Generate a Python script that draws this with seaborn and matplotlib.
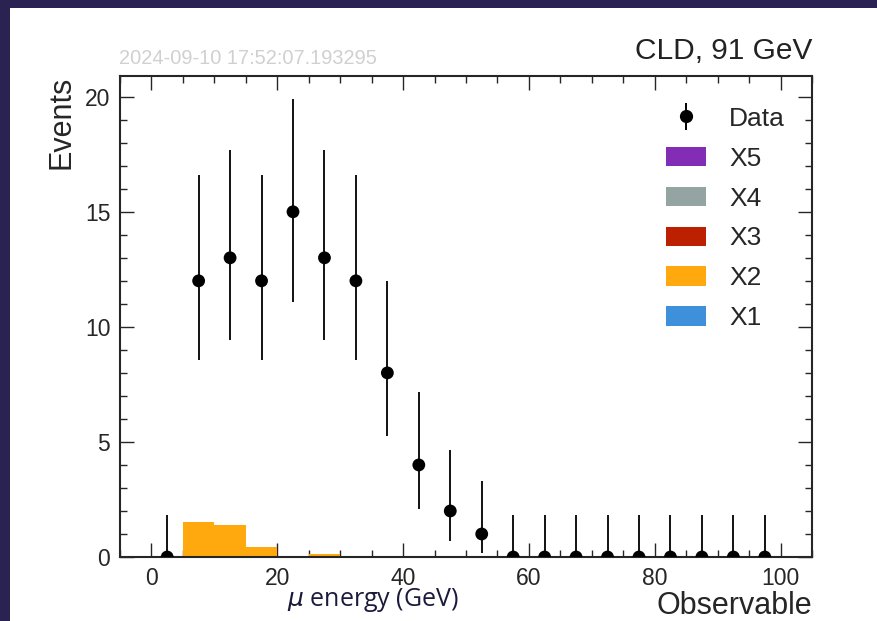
import numpy as np
import pandas as pd
import matplotlib
matplotlib.use("Agg")
import matplotlib.pyplot as plt
from matplotlib.patches import Patch, Rectangle
import seaborn as sns

# ---- data ----
bin_edges = [0, 5, 10, 15, 20, 25, 30, 35, 40, 45, 50, 55, 60, 65, 70, 75, 80, 85, 90, 95, 100]
bin_centers = [2.5, 7.5, 12.5, 17.5, 22.5, 27.5, 32.5, 37.5, 42.5, 47.5,
               52.5, 57.5, 62.5, 67.5, 72.5, 77.5, 82.5, 87.5, 92.5, 97.5]
data_counts = [0, 12, 13, 12, 15, 13, 12, 8, 4, 2, 1, 0, 0, 0, 0, 0, 0, 0, 0, 0]
data_err_low = [0, 8.56, 9.41, 8.56, 11.1, 9.41, 8.56, 5.27, 2.08, 0.71, 0.17, 0, 0, 0, 0, 0, 0, 0, 0, 0]
data_err_high = [1.84, 16.6, 17.7, 16.6, 19.9, 17.7, 16.6, 11.98, 7.16, 4.64, 3.30,
                 1.84, 1.84, 1.84, 1.84, 1.84, 1.84, 1.84, 1.84, 1.84]
x2_counts = [0, 1.52, 1.40, 0.42, 0, 0.15, 0, 0, 0, 0, 0, 0, 0, 0, 0, 0, 0, 0, 0, 0]
legend_labels = ["X5", "X4", "X3", "X2", "X1"]
legend_colors = ["#832db6", "#94a4a2", "#bd1f01", "#ffa90e", "#3f90da"]

# ---- style ----
sns.set_theme(style="ticks")
plt.rcParams["font.family"] = ["Liberation Sans", "DejaVu Sans"]
plt.rcParams["axes.linewidth"] = 1.5

W, H = 878, 621
fig = plt.figure(figsize=(W / 100, H / 100), dpi=100, facecolor="#2a2352")
fig.patches.append(Rectangle((10 / W, 0), 1, (H - 8) / H, transform=fig.transFigure,
                             facecolor="white", edgecolor="none", zorder=-10))
ax = fig.add_axes([120 / W, (H - 557) / H, (812 - 120) / W, (557 - 76) / H])
ax.set_facecolor("white")

df = pd.DataFrame({"x": bin_centers, "w": x2_counts})
sns.histplot(data=df, x="x", weights="w", bins=bin_edges, color="#ffa90e",
             alpha=1.0, edgecolor="none", linewidth=0, ax=ax, zorder=1)

ax.vlines(bin_centers, data_err_low, data_err_high, color="#111111", lw=1.4, zorder=3)
sns.scatterplot(x=bin_centers, y=data_counts, color="black", s=85, edgecolor="none",
                ax=ax, zorder=4, legend=False)

ax.set_xlim(-5, 105)
ax.set_ylim(0, 20.9)
ax.set_xticks([0, 20, 40, 60, 80, 100])
ax.set_yticks([0, 5, 10, 15, 20])
ax.set_xticks(np.arange(-5, 106, 5), minor=True)
ax.set_yticks(np.arange(0, 21, 1), minor=True)
ax.tick_params(which="both", direction="in", top=True, right=True, labelsize=16.5, pad=7)
ax.tick_params(which="major", length=10, width=1.0)
ax.tick_params(which="minor", length=5, width=1.0)

ax.set_xlabel("Observable", fontsize=22, ha="right", x=1.0, labelpad=1)
ax.set_ylabel("Events", fontsize=22, ha="right", y=1.0, labelpad=6)

fig.text(119 / W, 1 - 58 / H, "2024-09-10 17:52:07.193295", fontsize=14.4, color="#d0d0d0",
         ha="left", va="center")
fig.text(812 / W, 1 - 51 / H, "CLD, 91 GeV", fontsize=21.5, color="#222222",
         ha="right", va="center")
fig.text(373 / W, 1 - 600 / H, r"$\mu$ energy (GeV)", fontsize=18, color="#1c1a3c",
         ha="center", va="center", family=["Open Sans", "DejaVu Sans"])

# legend
data_handle = ax.errorbar([], [], yerr=[], fmt="o", color="black", markersize=8.5, lw=1.4)
handles = [data_handle] + [Patch(facecolor=c, edgecolor="none") for c in legend_colors]
labels = ["Data"] + legend_labels
ax.legend(handles, labels, loc="upper right", bbox_to_anchor=(0.995, 0.985), frameon=False,
          fontsize=19, handlelength=1.55, handleheight=0.76, labelspacing=0.6,
          handletextpad=0.85)

fig.savefig("out.png", dpi=100, facecolor=fig.get_facecolor())
